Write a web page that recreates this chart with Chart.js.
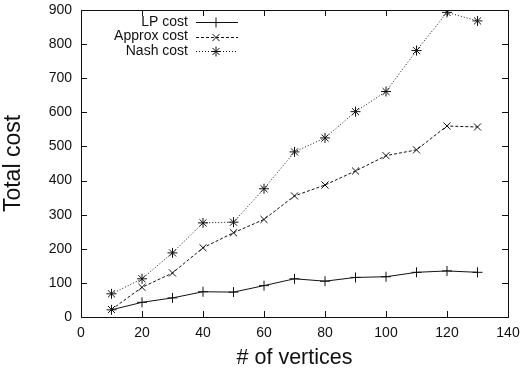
<!DOCTYPE html>
<html>
<head>
<meta charset="utf-8">
<script src="https://cdn.jsdelivr.net/npm/chart.js@4"></script>
<style>
  html, body { margin: 0; padding: 0; background: #fff; }
  #wrap { width: 524px; height: 371px; }
</style>
</head>
<body>
<div id="wrap"><canvas id="c" width="524" height="371"></canvas></div>
<script>
const vertices = [10, 20, 30, 40, 50, 60, 70, 80, 90, 100, 110, 120, 130];
const lpCost = [21, 43, 56, 74, 73, 92, 112, 105, 116, 118, 131, 135, 131];
const approxCost = [22, 87, 129, 203, 247, 286, 355, 387, 428, 473, 490, 560, 557];
const nashCost = [68, 112, 188, 276, 278, 376, 484, 525, 602, 661, 781, 893, 868];

const seriesNames = ['LP cost', 'Approx cost', 'Nash cost'];
const xTicks = [0, 20, 40, 60, 80, 100, 120, 140];
const yTicks = [0, 100, 200, 300, 400, 500, 600, 700, 800, 900];

const INK = '#111';
const FONT = '"Liberation Sans", Arial, sans-serif';

function pts(ys) {
  return vertices.map((v, i) => ({ x: v, y: ys[i] }));
}

// gnuplot-style frame: box all round, ticks pointing inward on all four sides
const framePlugin = {
  id: 'frame',
  afterDatasetsDraw(chart) {
    const { ctx, chartArea: a, scales } = chart;
    ctx.save();
    ctx.strokeStyle = INK;
    ctx.lineWidth = 1;
    ctx.strokeRect(a.left + 0.5, a.top + 0.5, a.right - a.left, a.bottom - a.top);
    ctx.beginPath();
    xTicks.forEach(t => {
      const px = Math.round(scales.x.getPixelForValue(t)) + 0.5;
      ctx.moveTo(px, a.bottom); ctx.lineTo(px, a.bottom - 6);
      ctx.moveTo(px, a.top); ctx.lineTo(px, a.top + 6);
    });
    yTicks.forEach(t => {
      const py = Math.round(scales.y.getPixelForValue(t)) + 0.5;
      ctx.moveTo(a.left, py); ctx.lineTo(a.left + 6, py);
      ctx.moveTo(a.right, py); ctx.lineTo(a.right - 6, py);
    });
    ctx.stroke();
    ctx.restore();
  },
};

// legend inside the plot, text right aligned then a sample of line + marker
const keyPlugin = {
  id: 'key',
  afterDatasetsDraw(chart) {
    const { ctx } = chart;
    ctx.save();
    ctx.font = '14px ' + FONT;
    ctx.textAlign = 'right';
    ctx.textBaseline = 'middle';
    chart.data.datasets.forEach((ds, i) => {
      const y = 22 + i * 14.5;
      ctx.fillStyle = INK;
      ctx.fillText(seriesNames[i], 188, y);
      ctx.strokeStyle = INK;
      ctx.lineWidth = 1;
      ctx.setLineDash(ds.borderDash || []);
      ctx.beginPath();
      ctx.moveTo(196, Math.round(y) + 0.5);
      ctx.lineTo(238, Math.round(y) + 0.5);
      ctx.stroke();
      ctx.setLineDash([]);
      Chart.helpers.drawPoint(ctx, {
        pointStyle: ds.pointStyle,
        radius: ds.pointRadius,
        borderWidth: 1,
      }, 216, Math.round(y) + 0.5);
    });
    ctx.restore();
  },
};

new Chart(document.getElementById('c'), {
  type: 'line',
  data: {
    datasets: [
      { label: seriesNames[0], data: pts(lpCost), pointStyle: 'cross', borderDash: [] },
      { label: seriesNames[1], data: pts(approxCost), pointStyle: 'crossRot', borderDash: [3, 2] },
      { label: seriesNames[2], data: pts(nashCost), pointStyle: 'star', borderDash: [1, 2] },
    ].map(ds => Object.assign({
      borderColor: INK,
      backgroundColor: INK,
      borderWidth: 1,
      pointRadius: 5,
      pointBorderWidth: 1,
      pointBorderColor: INK,
      tension: 0,
    }, ds)),
  },
  options: {
    responsive: false,
    animation: false,
    layout: { padding: { top: 10, right: 16, left: 0, bottom: 0 } },
    plugins: {
      legend: { display: false },
      tooltip: { enabled: false },
    },
    scales: {
      x: {
        type: 'linear',
        min: 0,
        max: 140,
        afterBuildTicks: s => { s.ticks = xTicks.map(v => ({ value: v })); },
        afterFit: s => { s.height = 54; s.paddingLeft = 0; s.paddingRight = 0; },
        grid: { display: false, drawTicks: false },
        border: { display: false },
        ticks: { color: INK, font: { family: FONT, size: 14 }, padding: 8, maxRotation: 0 },
        title: {
          display: true,
          text: '# of vertices',
          color: INK,
          font: { family: FONT, size: 21.5 },
          padding: { top: 2, bottom: 0 },
        },
      },
      y: {
        min: 0,
        max: 900,
        afterBuildTicks: s => { s.ticks = yTicks.map(v => ({ value: v })); },
        afterFit: s => { s.width = 81; s.paddingTop = 0; s.paddingBottom = 0; },
        grid: { display: false, drawTicks: false },
        border: { display: false },
        ticks: { color: INK, font: { family: FONT, size: 14 }, padding: 9 },
        title: {
          display: true,
          text: 'Total cost',
          color: INK,
          font: { family: FONT, size: 23 },
          padding: { top: 0, bottom: 4 },
        },
      },
    },
  },
  plugins: [framePlugin, keyPlugin],
});
</script>
</body>
</html>
